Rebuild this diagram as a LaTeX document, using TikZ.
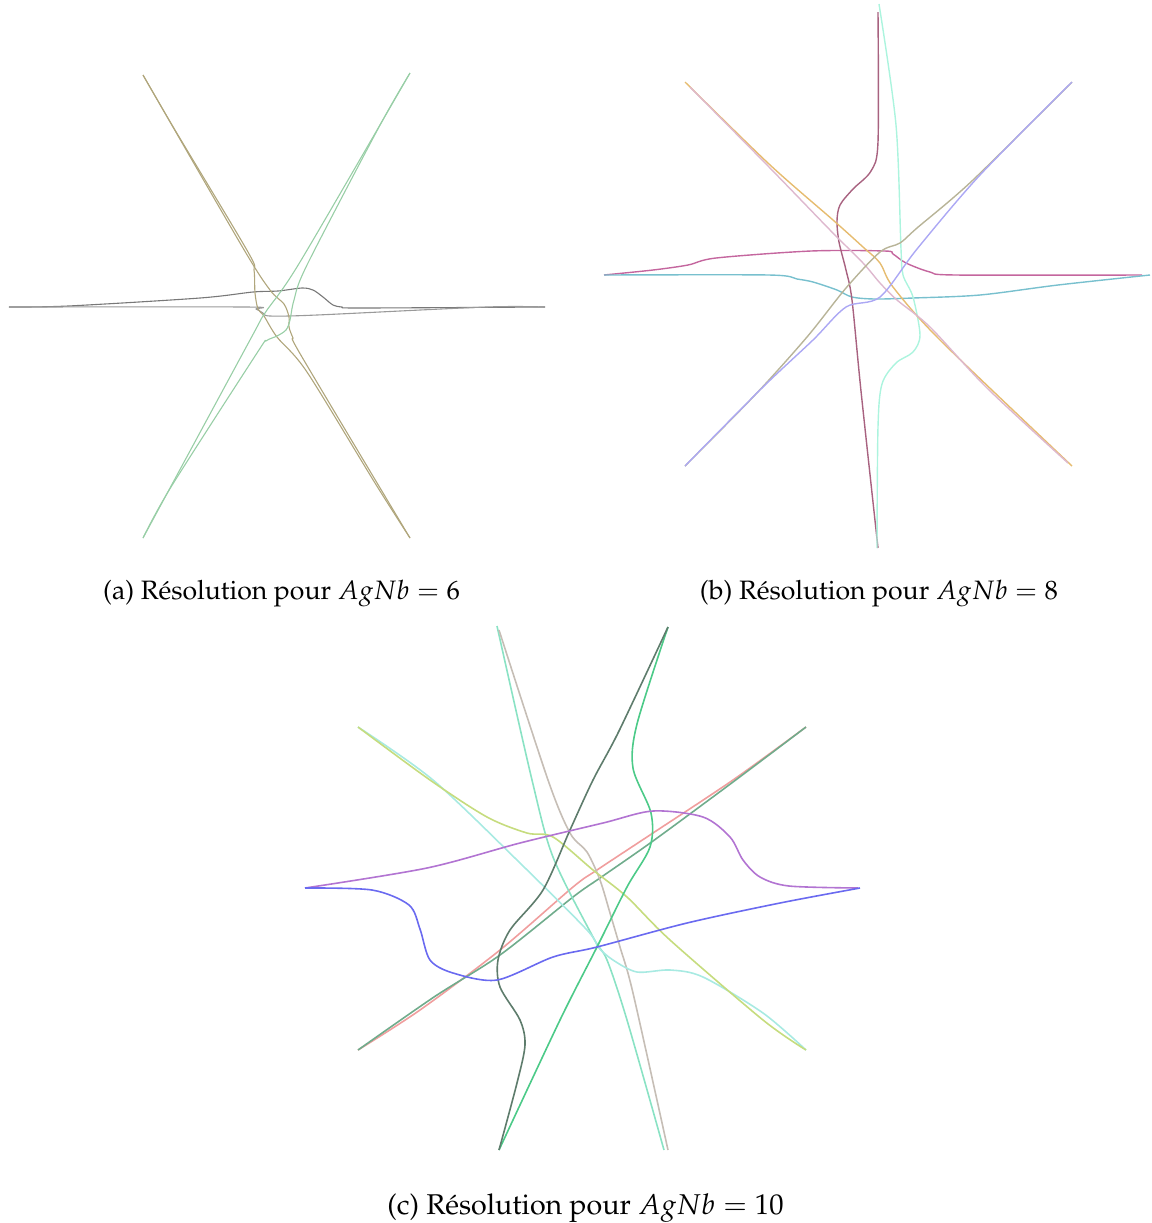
\documentclass[tikz,border=0pt]{standalone}
\usepackage[T1]{fontenc}
\usepackage{mathpazo}
\definecolor{agrayd}{HTML}{787878}
\definecolor{agray}{HTML}{9A9A9A}
\definecolor{aolive}{HTML}{B0A67C}
\definecolor{agreen}{HTML}{98CEA6}
\definecolor{bmag}{HTML}{C4669E}
\definecolor{bteal}{HTML}{78C0CE}
\definecolor{bmaroon}{HTML}{A86280}
\definecolor{bcyan}{HTML}{ACF4DE}
\definecolor{borange}{HTML}{E6BC70}
\definecolor{bpink}{HTML}{DEB8CE}
\definecolor{bolive}{HTML}{B8B498}
\definecolor{bblue}{HTML}{ACA8F4}
\definecolor{cpurple}{HTML}{B274D2}
\definecolor{cblue}{HTML}{6A6AF0}
\definecolor{cdark}{HTML}{5E7C6C}
\definecolor{cgreen}{HTML}{4CCA88}
\definecolor{cred}{HTML}{F09E9E}
\definecolor{cteal}{HTML}{70AC8C}
\definecolor{cyell}{HTML}{C6DC7E}
\definecolor{ccyan}{HTML}{A8EAE2}
\definecolor{cmint}{HTML}{8AE2C4}
\definecolor{ctaupe}{HTML}{C6BEB6}
\tikzset{
  traja/.style={line width=0.55pt, line join=round},
  trajb/.style={line width=0.7pt, line join=round},
  trajc/.style={line width=0.8pt, line join=round},
  capt/.style={font=\fontsize{13.3}{16}\selectfont, inner sep=0pt, anchor=base},
  captc/.style={font=\fontsize{14.3}{17}\selectfont, inner sep=0pt, anchor=base}
}
\begin{document}
\begin{tikzpicture}[x=0.5pt, y=-0.5pt]
\useasboundingbox (0,0) rectangle (1152,1223);
% ---------------- panel (a)
\draw[traja, agrayd] plot[smooth, tension=0.5] coordinates {(9,307) (68,306) (200,298) (253,292) (278,291) (302,288) (313,290) (323,297) (333,305) (342,307) (360,308) (545,307)};
\draw[traja, agray] plot[smooth, tension=0.5] coordinates {(9,307) (246,307) (256,309) (263,313) (270,316) (317,315) (486,307) (545,307)};
\draw[traja, aolive] plot[smooth, tension=0.5] coordinates {(143,75) (175,130) (248,252) (254,270) (255,293) (258,309) (264,316) (277,337) (307,372) (375,483) (410,538)};
\draw[traja, aolive] plot[smooth, tension=0.5] coordinates {(143,75) (243,248) (270,290) (284,304) (289,317) (289,327) (293,338) (302,357) (410,538)};
\draw[traja, agreen] plot[smooth, tension=0.5] coordinates {(410,73) (300,262) (265,313) (250,340) (143,538)};
\draw[traja, agreen] plot[smooth, tension=0.5] coordinates {(410,73) (379,127) (307,265) (294,300) (290,320) (286,330) (277,336) (266,341) (257,353) (171,487) (143,538)};
% ---------------- panel (b)
\draw[trajb, bmag] plot[smooth, tension=0.5] coordinates {(604,275) (653,270) (688,265) (716,258) (811,251) (885,251) (893,254) (906,263) (930,272) (956,275) (1142,275)};
\draw[trajb, bteal] plot[smooth, tension=0.5] coordinates {(604,275) (769,275) (797,279) (813,282) (837,290) (852,297) (875,299) (913,298) (980,295) (1058,285) (1150,275)};
\draw[trajb, bmaroon] plot[smooth, tension=0.5] coordinates {(878,12) (878,142) (871,171) (853,189) (840,205) (837,221) (839,242) (846,270) (852,300) (861,391) (878,548)};
\draw[trajb, bcyan] plot[smooth, tension=0.5] coordinates {(879,4) (896,125) (901,249) (903,275) (913,297) (920,335) (913,352) (896,363) (882,384) (878,427) (877,548)};
\draw[trajb, borange] plot[smooth, tension=0.5] coordinates {(685,82) (769,164) (833,220) (863,247) (880,263) (893,287) (940,340) (1072,466)};
\draw[trajb, bpink] plot[smooth, tension=0.5] coordinates {(690,87) (769,167) (830,230) (863,263) (880,283) (897,300) (930,327) (987,388) (1068,463)};
\draw[trajb, bolive] plot[smooth, tension=0.5] coordinates {(1072,82) (973,180) (917,228) (900,243) (880,252) (846,288) (807,337) (755,395) (685,466)};
\draw[trajb, bblue] plot[smooth, tension=0.5] coordinates {(1072,82) (980,175) (917,249) (880,297) (846,307) (813,340) (762,388) (685,466)};
% ---------------- panel (c)
\draw[trajc, cred] plot[smooth, tension=0.5] coordinates {(358,1050) (420,1010) (500,950) (573,887) (597,870) (653,833) (733,780) (806,727)};
\draw[trajc, cteal] plot[smooth, tension=0.5] coordinates {(358,1050) (434,997) (500,955) (573,897) (600,878) (653,841) (733,782) (806,727)};
\draw[trajc, cmint] plot[smooth, tension=0.5] coordinates {(497,626) (532,780) (553,857) (593,937) (607,960) (627,1020) (664,1150)};
\draw[trajc, ctaupe] plot[smooth, tension=0.5] coordinates {(499,630) (548,780) (570,833) (587,852) (600,880) (610,913) (620,947) (633,993) (668,1150)};
\draw[trajc, ccyan] plot[smooth, tension=0.5] coordinates {(358,727) (433,780) (520,863) (587,930) (598,947) (613,960) (637,972) (670,970) (703,977) (763,1013) (806,1050)};
\draw[trajc, cyell] plot[smooth, tension=0.5] coordinates {(358,727) (430,780) (487,817) (527,833) (553,837) (593,870) (627,897) (670,940) (763,1020) (806,1050)};
\draw[trajc, cgreen] plot[smooth, tension=0.5] coordinates {(668,627) (637,724) (633,768) (651,813) (650,847) (627,887) (597,947) (560,1020) (499,1150)};
\draw[trajc, cdark] plot[smooth, tension=0.5] coordinates {(668,627) (619,731) (593,780) (570,830) (543,890) (510,930) (498,960) (500,987) (520,1020) (525,1045) (517,1083) (499,1150)};
\draw[trajc, cpurple] plot[smooth, tension=0.5] coordinates {(305,888) (427,868) (520,843) (603,823) (653,811) (703,817) (730,837) (743,860) (760,877) (789,886) (858,888)};
\draw[trajc, cblue] plot[smooth, tension=0.5] coordinates {(860,888) (780,903) (687,923) (597,947) (553,957) (497,980) (453,973) (430,960) (420,929) (409,905) (372,890) (305,888)};
% ---------------- captions
\node[capt] (capa) at (281.5,599) {(a) R\'esolution pour $AgNb = 6$};
\node[capt] (capb) at (879,599) {(b) R\'esolution pour $AgNb = 8$};
\node[captc] (capc) at (585.5,1214) {(c) R\'esolution pour $AgNb = 10$};
\end{tikzpicture}
\end{document}
